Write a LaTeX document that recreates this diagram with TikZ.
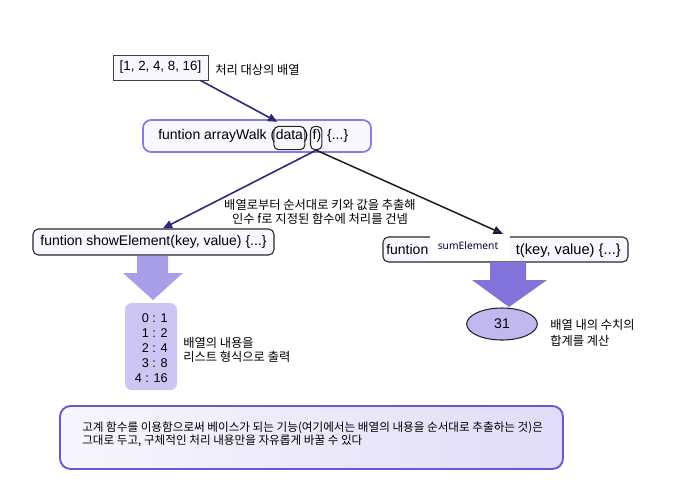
\documentclass[tikz,border=0pt]{standalone}
\usepackage{fontspec}
\setmainfont{Liberation Sans}
\newfontfamily\kr{Noto Sans CJK KR}
\newfontfamily\seg{Noto Sans}
\usetikzlibrary{fit,arrows.meta,shapes.geometric}
\definecolor{navy}{HTML}{2C2A7A}
\definecolor{pborder}{HTML}{8A7BE0}
\definecolor{pfill}{HTML}{F8F6FF}
\definecolor{lav}{HTML}{A99EE8}
\definecolor{lavdark}{HTML}{8173DA}
\definecolor{listfill}{HTML}{CDC5F3}
\definecolor{ellfill}{HTML}{C2B8F0}
\definecolor{botborder}{HTML}{6A58D0}
\tikzset{
  code/.style={inner sep=0pt, font=\fontsize{10.5}{12}\selectfont},
  krtext/.style={inner sep=0pt, font=\kr\fontsize{9.2}{11}\selectfont, align=left},
  darkbox/.style={draw=black!85, line width=0.8pt, rounded corners=4pt, fill=pfill, inner sep=0pt},
  parambox/.style={draw=black!85, line width=0.8pt, rounded corners=3.5pt, inner sep=0pt},
  navyarrow/.style={draw=navy, line width=1.2pt, -{Triangle[length=7pt,width=6pt]}},
  blackarrow/.style={draw=black!90, line width=1.1pt, -{Triangle[length=7pt,width=6pt,fill=navy]}},
}
\begin{document}
\begin{tikzpicture}[x=0.75pt,y=-0.75pt]
\useasboundingbox (0,0) rectangle (677,487);

% array box
\node[fit={(113,55) (208,80)}, inner sep=0pt, draw=black!75, line width=0.7pt, fill=pfill] (arr) {};
\node[code, font=\fontsize{10}{12}\selectfont] (arrtxt) at (arr.center) {[1, 2, 4, 8, 16]};
\node[krtext, anchor=west] (arrlbl) at (215,70) {처리 대상의 배열};

% arrayWalk box
\node[fit={(143,120) (371,152)}, inner sep=0pt, draw=pborder, line width=1.3pt, rounded corners=6pt, fill=pfill] (aw) {};
\node[code, anchor=base west] (aw1) at (158,139) {funtion arrayWalk (};
\node[code, anchor=base west] (aw2) at (aw1.base east) {data};
\node[code, anchor=base west] (aw3) at (aw2.base east) {)};
\node[code, anchor=base west] (aw4) at ([xshift=3pt]aw3.base east) {f)};
\node[code, anchor=base west] (aw5) at ([xshift=4pt]aw4.base east) {\{...\}};
\node[parambox, fit={([xshift=-1.2pt,yshift=9.5pt]aw2.base west) ([xshift=1.2pt,yshift=-8pt]aw2.base east)}] (dataBox) {};
\node[parambox, fit={([xshift=-1.5pt,yshift=9.5pt]aw4.base west) ([xshift=0.3pt,yshift=-8pt]aw4.base east)}] (fBox) {};

\draw[navyarrow] ([xshift=-6pt]arr.south east) -- ([xshift=3pt,yshift=3pt]dataBox.north west);

% middle text
\node[krtext, align=center] (mid) at (320,212) {배열로부터 순서대로 키와 값을 추출해\\인수 f로 지정된 함수에 처리를 건넴};

% showElement box
\node[darkbox, fit={(33,229) (274,255)}] (se) {};
\node[code] (setxt) at (se.center) {funtion showElement(key, value) \{...\}};

% sumElement box
\node[darkbox, fit={(383,237) (628,262)}] (sum) {};
\node[code, anchor=base west] (sum1) at (386,254) {funtion};
\node[code, anchor=base east, font=\fontsize{11}{12}\selectfont] (sum2) at (621,254) {t(key, value) \{...\}};
\node[fit={(430,232) (510,261)}, inner sep=0pt, fill=white] (patch) {};
\node[inner sep=0pt, font=\seg\fontsize{7.7}{9}\selectfont, text=black!80!blue] (patchtxt) at (468,246) {sumElement};

% connectors from f
\draw[navyarrow] (fBox.south) -- ([xshift=7pt]se.north);
\draw[blackarrow] (fBox.south) -- ([xshift=-2pt,yshift=2pt]sum.north);

% block arrows
\fill[lav] (137,256) -- (168,256) -- (168,273) -- (183,273) -- (153,300) -- (123,273) -- (137,273) -- cycle;
\fill[lavdark] (490,262) -- (526,262) -- (526,280) -- (547,280) -- (509,307) -- (472,280) -- (490,280) -- cycle;

% list box
\node[fit={(125,303) (177,390)}, inner sep=0pt, fill=listfill, rounded corners=5pt] (list) {};
\node[code, align=right, font=\fontsize{9.5}{11.25}\selectfont, anchor=east] (listtxt) at (168,348) {0 : 1\\1 : 2\\2 : 4\\3 : 8\\4 : 16};
\node[krtext, anchor=west, font=\kr\fontsize{9.2}{10.5}\selectfont] (listlbl) at (183,350) {배열의 내용을\\리스트 형식으로 출력};

% ellipse
\node[ellipse, draw=black!85, line width=0.8pt, fill=ellfill, minimum width=53pt, minimum height=24pt, inner sep=0pt, code] (tot) at (502,324) {31};
\node[krtext, anchor=west, font=\kr\fontsize{9.2}{11.5}\selectfont] (totlbl) at (550,333) {배열 내의 수치의\\합계를 계산};

% bottom box
\node[fit={(60,406) (563,469)}, inner sep=0pt, draw=botborder, line width=1.4pt, rounded corners=8pt, left color=white!85!listfill, right color=listfill!60!white] (bot) {};
\node[krtext, anchor=west, font=\kr\fontsize{8.7}{9.8}\selectfont] (bottxt) at (82,434) {고계 함수를 이용함으로써 베이스가 되는 기능(여기에서는 배열의 내용을 순서대로 추출하는 것)은\\그대로 두고, 구체적인 처리 내용만을 자유롭게 바꿀 수 있다};
\end{tikzpicture}
\end{document}
